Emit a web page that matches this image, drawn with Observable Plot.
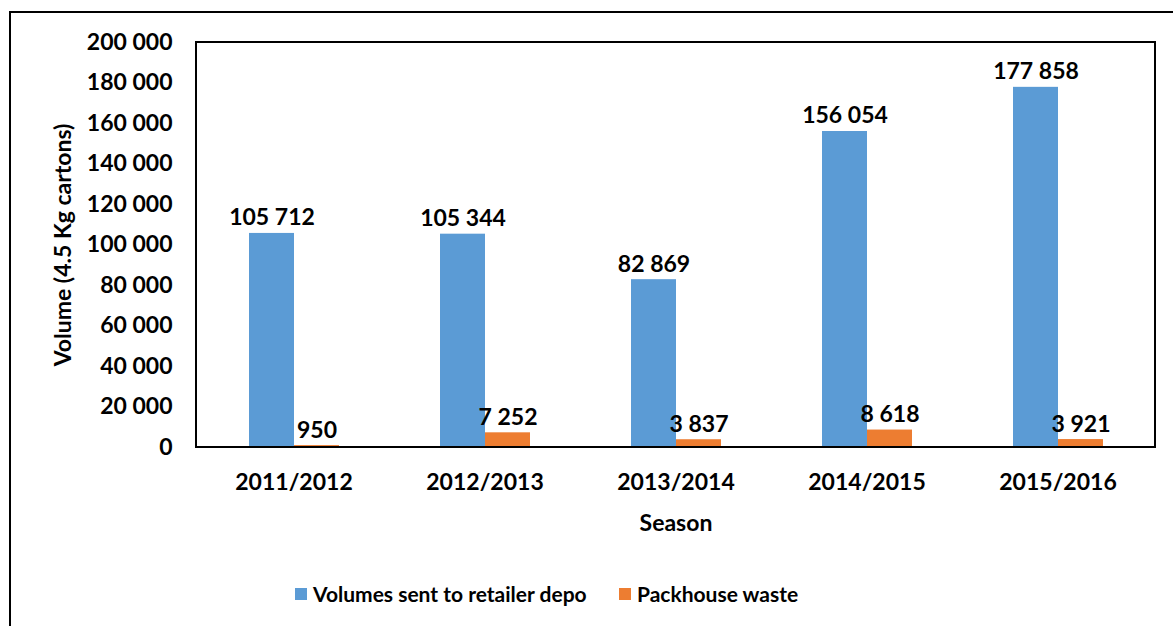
<!DOCTYPE html>
<html>
<head>
<meta charset="utf-8">
<script src="https://cdn.jsdelivr.net/npm/d3@7"></script>
<script src="https://cdn.jsdelivr.net/npm/@observablehq/plot@0.6"></script>
<style>
  html, body { margin: 0; padding: 0; background: #fff; overflow: hidden; }
  #wrap { position: relative; width: 1173px; height: 626px; overflow: hidden; font-family: Lato, sans-serif; font-weight: bold; }
  #border { position: absolute; left: 9px; top: 11px; width: 1300px; height: 800px; border: 2px solid #000; box-sizing: border-box; }
  #chart { position: absolute; left: 0; top: 0; }
  #legend { position: absolute; top: 581px; left: 0; width: 1173px; height: 30px; font-size: 21px; color: #000; }
  .item { position: absolute; display: flex; align-items: center; white-space: nowrap; }
  .sw { width: 12px; height: 12px; margin-right: 6px; }
</style>
</head>
<body>
<div id="wrap">
  <div id="border"></div>
  <div id="chart"></div>
  <div id="legend"></div>
</div>
<script>
const seasons = ["2011/2012", "2012/2013", "2013/2014", "2014/2015", "2015/2016"];
const retailerVolumes = [105712, 105344, 82869, 156054, 177858];
const packhouseWaste = [950, 7252, 3837, 8618, 3921];
const seriesNames = ["Volumes sent to retailer depo", "Packhouse waste"];
const seriesColors = ["#5B9BD5", "#ED7D31"];
const yTicks = [0, 20000, 40000, 60000, 80000, 100000, 120000, 140000, 160000, 180000, 200000];

const locale = d3.formatLocale({decimal: ".", thousands: " ", grouping: [3], currency: ["", ""]});
const fmt = locale.format(",d");

const data = seasons.flatMap((s, i) => [
  {season: s, series: seriesNames[0], value: retailerVolumes[i]},
  {season: s, series: seriesNames[1], value: packhouseWaste[i]}
]);

const plot = Plot.plot({
  width: 1173,
  height: 560,
  marginLeft: 196,
  marginRight: 18,
  marginTop: 42,
  marginBottom: 113,
  style: {fontFamily: "Lato, sans-serif", fontSize: "23px", fontWeight: "bold", color: "#000", background: "transparent", overflow: "visible"},
  fx: {domain: seasons, padding: 0, axis: "bottom", label: "Season", labelAnchor: "center", labelOffset: 83, labelArrow: false, tickSize: 0, tickPadding: 26},
  x: {domain: seriesNames, paddingInner: 0, paddingOuter: 1.085, axis: null},
  y: {domain: [0, 200000], ticks: yTicks, tickFormat: fmt, tickSize: 0, tickPadding: 26, label: "Volume (4.5 Kg cartons)", labelAnchor: "center", labelArrow: false, labelOffset: 144},
  color: {domain: seriesNames, range: seriesColors},
  marks: [
    Plot.barY(data, {fx: "season", x: "series", y: "value", fill: "series"}),
    Plot.text(data, {fx: "season", x: "series", y: "value", text: d => fmt(d.value), lineAnchor: "bottom", dy: -8, fill: "#000"})
  ]
});

// plot-area frame drawn from the library's scales
const fxR = plot.scale("fx").range;
const yR = plot.scale("y").range;
d3.select(plot).append("rect")
  .attr("x", Math.min(...fxR)).attr("y", Math.min(...yR))
  .attr("width", Math.abs(fxR[1] - fxR[0])).attr("height", Math.abs(yR[1] - yR[0]))
  .attr("fill", "none").attr("stroke", "#000").attr("stroke-width", 2);

document.getElementById("chart").appendChild(plot);

const legend = document.getElementById("legend");
const legendLeft = [295, 619];
seriesNames.forEach((name, i) => {
  const item = document.createElement("div");
  item.className = "item";
  item.style.left = legendLeft[i] + "px";
  const sw = document.createElement("div");
  sw.className = "sw";
  sw.style.background = seriesColors[i];
  const t = document.createElement("span");
  t.textContent = name;
  item.appendChild(sw); item.appendChild(t);
  legend.appendChild(item);
});
</script>
</body>
</html>
